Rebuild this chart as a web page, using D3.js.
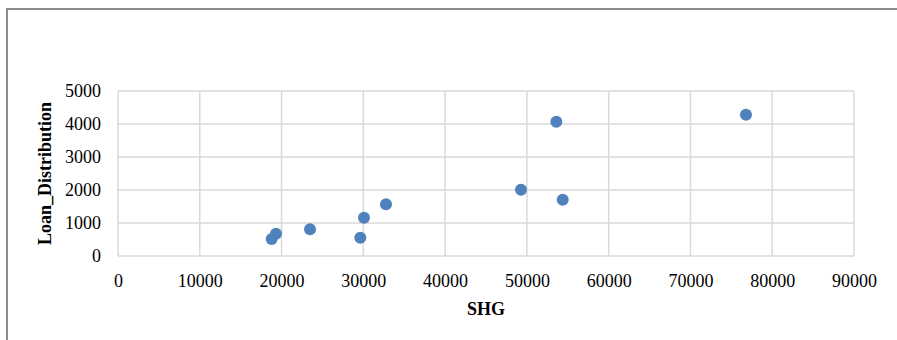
<!DOCTYPE html>
<html lang="en">
<head>
  <meta charset="UTF-8" />
  <title>SHG vs Loan_Distribution</title>
  <style>
    * { margin:0; padding:0; box-sizing:border-box; }
    body { background:#fff; overflow:hidden; width:897px; height:340px; }
    svg { display:block; font-family:'Liberation Serif','Times New Roman',serif; }
    .grid line { stroke:#d9d9d9; stroke-width:1.5px; }
    .tick text { font-family:'Liberation Serif','Times New Roman',serif; font-size:18px; fill:#000; }
    .title { font-family:'Liberation Serif','Times New Roman',serif; font-size:18px; font-weight:bold; fill:#000; }
  </style>
</head>
<body>
<script src="https://d3js.org/d3.v7.min.js"></script>
<script>
  // data
  const shg  = [18790, 19320, 23480, 29630, 30080, 32770, 49280, 53600, 54380, 76790];
  const loan = [515, 676, 808, 555, 1161, 1566, 2010, 4070, 1706, 4282];
  const xTicks = [0, 10000, 20000, 30000, 40000, 50000, 60000, 70000, 80000, 90000];
  const yTicks = [0, 1000, 2000, 3000, 4000, 5000];

  const width = 897, height = 340;
  const plot = { left:118, right:854, top:91, bottom:256 };

  const svg = d3.select('body').append('svg')
    .attr('width', width).attr('height', height);

  // outer frame (only top and left edge are visible)
  svg.append('rect')
    .attr('x', 7).attr('y', 9).attr('width', 1000).attr('height', 400)
    .attr('fill', 'none').attr('stroke', '#8c8c8c').attr('stroke-width', 2);

  const x = d3.scaleLinear().domain([0, 90000]).range([plot.left, plot.right]);
  const y = d3.scaleLinear().domain([0, 5000]).range([plot.bottom, plot.top]);

  // grid
  const grid = svg.append('g').attr('class', 'grid');
  grid.selectAll('line.v').data(xTicks).join('line').attr('class', 'v')
    .attr('x1', d => x(d)).attr('x2', d => x(d))
    .attr('y1', plot.top).attr('y2', plot.bottom);
  grid.selectAll('line.h').data(yTicks).join('line').attr('class', 'h')
    .attr('x1', plot.left).attr('x2', plot.right)
    .attr('y1', d => y(d)).attr('y2', d => y(d));

  // axes (labels only)
  const xAxis = svg.append('g')
    .attr('transform', `translate(0,${plot.bottom})`)
    .call(d3.axisBottom(x).tickValues(xTicks).tickFormat(d3.format('d')).tickSize(0).tickPadding(18));
  const yAxis = svg.append('g')
    .attr('transform', `translate(${plot.left},0)`)
    .call(d3.axisLeft(y).tickValues(yTicks).tickFormat(d3.format('d')).tickSize(0).tickPadding(17));
  [xAxis, yAxis].forEach(a => a.select('.domain').remove());

  // points
  const pts = shg.map((s, i) => ({ s, l: loan[i] }));
  svg.append('g').selectAll('circle').data(pts).join('circle')
    .attr('cx', d => x(d.s)).attr('cy', d => y(d.l))
    .attr('r', 6).attr('fill', '#4f81bd');

  // axis titles
  svg.append('text').attr('class', 'title')
    .attr('x', (plot.left + plot.right) / 2).attr('y', 315)
    .attr('text-anchor', 'middle').text('SHG');
  svg.append('text').attr('class', 'title')
    .attr('transform', `translate(51,${(plot.top + plot.bottom) / 2}) rotate(-90)`)
    .attr('text-anchor', 'middle').text('Loan_Distribution');
</script>
</body>
</html>
